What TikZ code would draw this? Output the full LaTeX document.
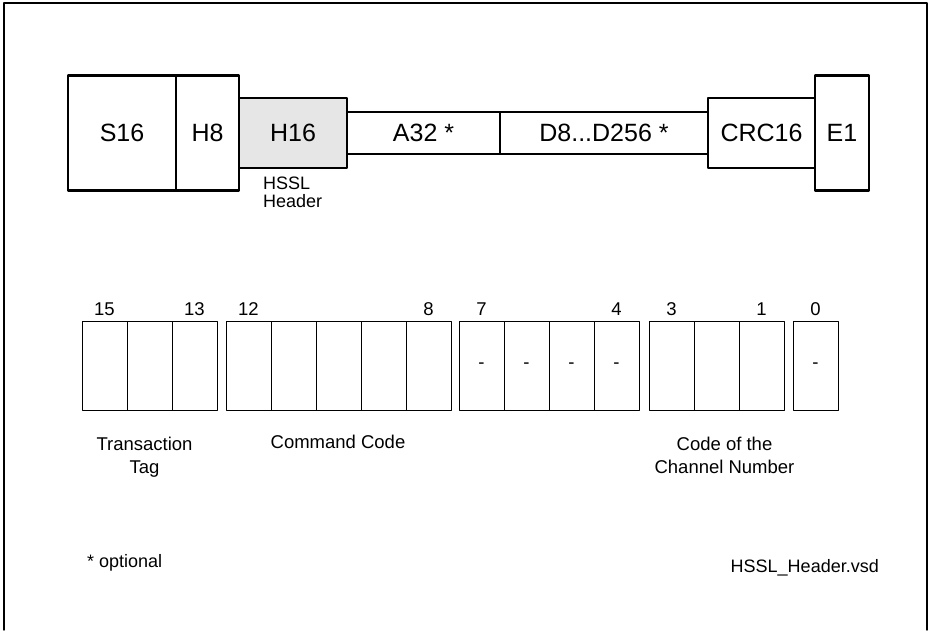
\documentclass[tikz,border=0pt]{standalone}
\usepackage{fontspec}
\setmainfont{Liberation Sans}
\usetikzlibrary{positioning}
\definecolor{hdrgray}{HTML}{E6E6E6}
\tikzset{
    field/.style={
        draw, line width=2.6pt, outer sep=0pt, inner sep=0pt,
        font=\fontsize{25}{30}\selectfont
    },
    bitcell/.style={
        draw, line width=0.9pt, outer sep=0pt, inner sep=0pt,
        minimum width=45pt, minimum height=89pt, anchor=north west,
        font=\fontsize{18.5}{22}\selectfont
    },
    lab/.style={
        inner sep=0pt, font=\fontsize{18.5}{22.5}\selectfont
    }
}

\begin{document}
\begin{tikzpicture}[x=1pt, y=-1pt, line cap=round, line join=round]

\useasboundingbox (0,0) rectangle (929,630);

% outer frame, open at the bottom
\draw[line width=1.4pt] (4,630) -- (4,3) -- (927,3) -- (927,630);

% frame fields, all on one middle line
\node[field, minimum width=108pt, minimum height=115pt, anchor=west] (s16) at (68,133) {S16};
\node[field, minimum width=63pt, minimum height=115pt, right=0pt of s16] (h8) {H8};
\node[field, fill=hdrgray, minimum width=108pt, minimum height=70pt, right=0pt of h8] (h16) {H16};
\node[field, minimum width=153pt, minimum height=42pt, right=0pt of h16] (a32) {A32 *};
\node[field, minimum width=208pt, minimum height=42pt, right=0pt of a32] (data) {D8...D256 *};
\node[field, minimum width=107pt, minimum height=70pt, right=0pt of data] (crc) {CRC16};
\node[field, minimum width=54pt, minimum height=115pt, right=0pt of crc] (e1) {E1};

\node[lab, font=\fontsize{18}{18}\selectfont, align=left, anchor=north west] (hdrlab) at (263,177) {HSSL\\Header};

% header bits 15..0
\foreach \b/\x/\t in {15/82/{}, 14/127/{}, 13/172/{},
                      12/226/{}, 11/271/{}, 10/316/{}, 9/361/{}, 8/406/{},
                      7/459/-, 6/504/-, 5/549/-, 4/594/-,
                      3/649/{}, 2/694/{}, 1/739/{},
                      0/793/-} {
  \node[bitcell] (c\b) at (\x,321) {\t};
}

\foreach \b in {15,13,12,8,7,4,3,1,0} {
  \node[lab, anchor=base] (n\b) at ([yshift=6pt]c\b.north) {\b};
}

\node[lab, align=center, anchor=north] (tag) at (144.5,437) {Transaction\\Tag};
\node[lab, anchor=north] (cmd) at (338,435) {Command Code};
\node[lab, align=center, anchor=north] (chan) at (724.5,437) {Code of the\\Channel Number};

% footer
\node[lab, font=\fontsize{18}{22}\selectfont, anchor=base west] (opt) at (87,567) {* optional};
\node[lab, font=\fontsize{18}{22}\selectfont, anchor=base east] (file) at (879,572) {HSSL\_Header.vsd};

\end{tikzpicture}
\end{document}
